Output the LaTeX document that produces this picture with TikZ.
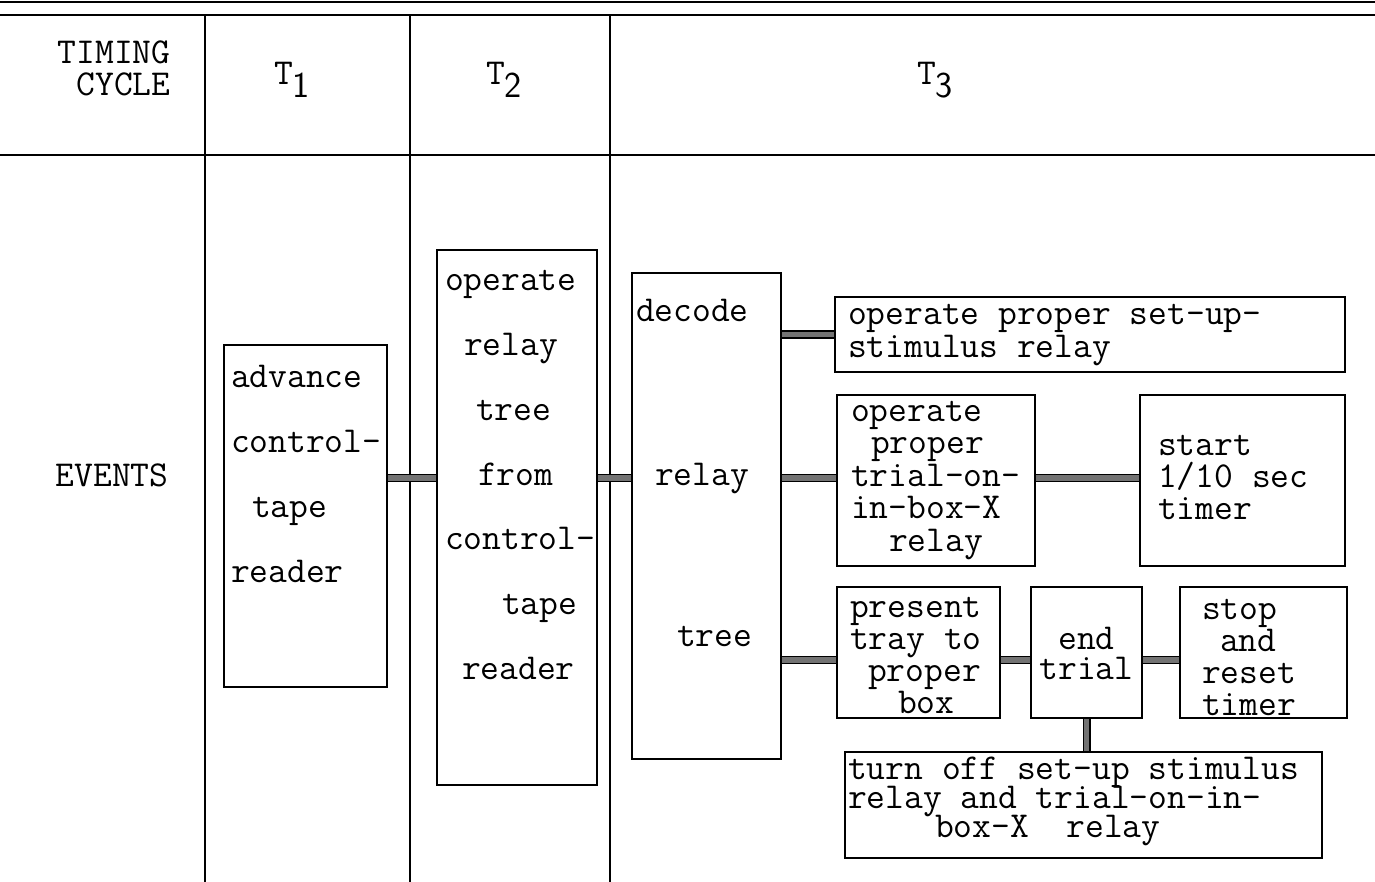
\documentclass[tikz,border=0pt]{standalone}
\usepackage{fontspec}
\usepackage{tikz}
\usetikzlibrary{positioning, calc}
\newcommand\tyfont{\fontsize{36.5}{32}\selectfont\ttfamily}
\newcommand\subdig[1]{\raisebox{-13pt}{\sffamily #1}}

\begin{document}
\begin{tikzpicture}[
  x=1pt, y=-1pt,
  evt/.style={draw, line width=2.6pt, inner ysep=0pt, align=flush left, font=\tyfont},
  hd/.style={font=\tyfont},
  link/.style={line width=1.2pt, double=black!55, double distance=5.6pt},
  rule/.style={line width=2.2pt}
]
  \useasboundingbox (0,0) rectangle (1375,882);

  % table rules
  \draw[line width=1.8pt] (0,2) -- (1375,2);
  \draw[rule] (0,15) -- (1375,15);
  \draw[rule] (0,155) -- (1375,155);
  \foreach \x in {205,410,610}
    \draw[rule] (\x,15) -- (\x,882);

  % headings
  \node[hd, anchor=east, align=right] (cyc) at (174,68) {TIMING\\CYCLE};
  \node[hd] (t1) at (292,80) {T\subdig{1}};
  \node[hd] (t2) at (504,80) {T\subdig{2}};
  \node[hd] (t3) at (935,80) {T\subdig{3}};
  \node[hd] (ev) at (112,475) {EVENTS};

  % event boxes
  \node[evt, inner xsep=7pt, text width=149pt, text height=42pt, text depth=300pt]
    (adv) at (305.5,516) {advance\\[33pt]control-\\[33pt]\hspace*{21pt}tape\\[33pt]reader};
  \node[evt, inner xsep=8pt, text width=144pt, text height=41pt, text depth=494pt]
    (op) at (517,517.5) {operate\\[32.7pt]\hspace*{19pt}relay\\[32.7pt]\hspace*{31pt}tree\\[32.7pt]\hspace*{33pt}from\\[32.7pt]control-\\[32.7pt]\hspace*{57pt}tape\\[32.7pt]\hspace*{17pt}reader};
  \node[evt, inner xsep=4pt, text width=141pt, text height=49pt, text depth=437pt]
    (dec) at (706.5,516) {decode\\[132pt]\hspace*{19pt}relay\\[128pt]\hspace*{41pt}tree};
  \node[evt, inner xsep=13pt, text width=484pt, text height=27pt, text depth=48pt]
    (setup) at (1090,334.5) {operate proper set-up-\\[1pt]stimulus relay};
  \node[evt, inner xsep=14pt, text width=170pt, text height=26pt, text depth=145pt]
    (trial) at (936,480.5) {operate\\[0.5pt]\hspace*{20pt}proper\\[0.5pt]trial-on-\\[0.5pt]in-box-X\\[0.5pt]\hspace*{38pt}relay};
  \node[evt, inner xsep=18pt, text width=169pt, text height=60pt, text depth=111pt]
    (start) at (1242.5,480.5) {start\\1/10 sec\\timer};
  \node[evt, inner xsep=13pt, text width=137pt, text height=30pt, text depth=101pt]
    (present) at (918.5,652.5) {present\\tray to\\\hspace*{18pt}proper\\\hspace*{48pt}box};
  \node[evt, align=flush center, inner xsep=6pt, text width=99pt, text height=62pt, text depth=69pt]
    (end) at (1086.5,652.5) {end\\[-2pt]trial};
  \node[evt, inner xsep=22pt, text width=123pt, text height=32pt, text depth=99pt]
    (stop) at (1263.5,652.5) {stop\\\hspace*{18pt}and\\reset\\timer};
  \node[evt, inner xsep=3pt, text width=471pt, text height=27pt, text depth=79pt]
    (off) at (1083.5,805) {turn off set-up stimulus\\[-3pt]relay and trial-on-in-\\[-3pt]\hspace*{87pt}box-X\ \ relay};

  % connectors
  \coordinate (mid) at (0,478);
  \coordinate (low) at (0,660);
  \draw[link] (adv.east |- mid) -- (op.west |- mid);
  \draw[link] (op.east |- mid) -- (dec.west |- mid);
  \draw[link] (dec.east |- setup.west) -- (setup.west);
  \draw[link] (dec.east |- mid) -- (trial.west |- mid);
  \draw[link] (trial.east |- mid) -- (start.west |- mid);
  \draw[link] (dec.east |- low) -- (present.west |- low);
  \draw[link] (present.east |- low) -- (end.west |- low);
  \draw[link] (end.east |- low) -- (stop.west |- low);
  \draw[link] (end.south) -- (off.north -| end.south);
\end{tikzpicture}
\end{document}
